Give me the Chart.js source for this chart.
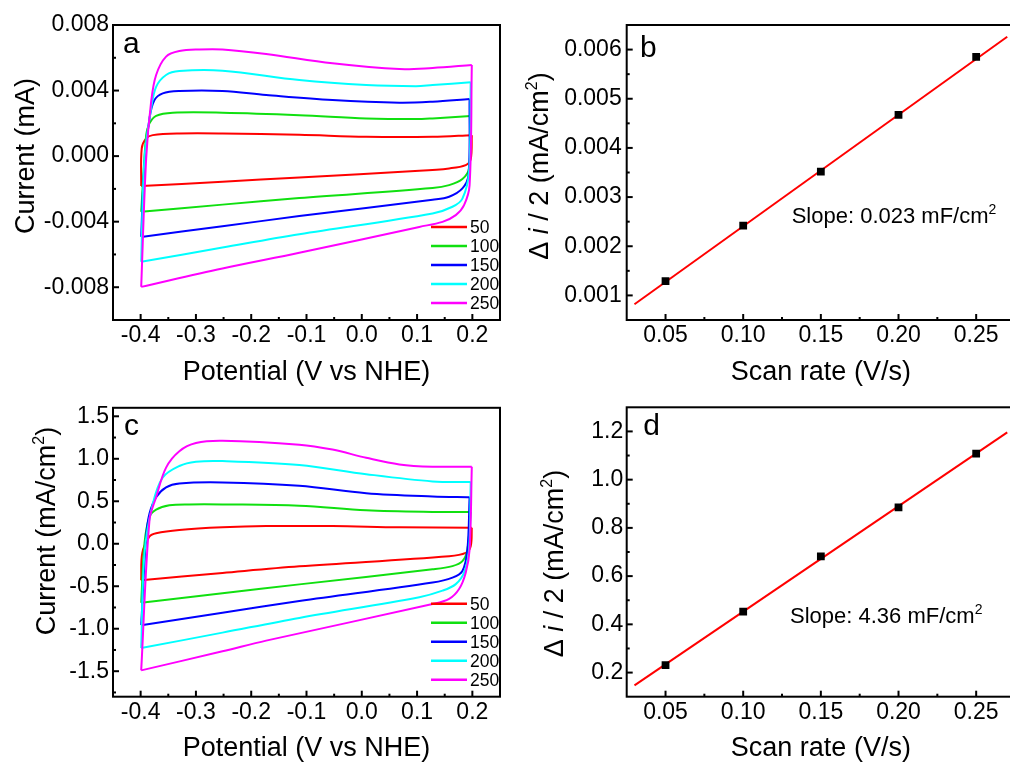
<!DOCTYPE html>
<html>
<head>
<meta charset="utf-8">
<script src="https://cdn.jsdelivr.net/npm/chart.js@4.4.1/dist/chart.umd.min.js"></script>
<style>
  html, body { margin: 0; padding: 0; background: #fff; overflow: hidden; width: 1010px; height: 766px; }
  canvas { position: absolute; }
</style>
</head>
<body>
<canvas id="chartA" width="505" height="390" style="left:0;top:0"></canvas>
<canvas id="chartB" width="505" height="390" style="left:510px;top:0"></canvas>
<canvas id="chartC" width="505" height="376" style="left:0;top:390px"></canvas>
<canvas id="chartD" width="505" height="376" style="left:510px;top:390px"></canvas>
<script>
const FONT = "'Liberation Sans', Arial, sans-serif";

// scan rates (mV/s) used as legend labels
const scanRates = ["50", "100", "150", "200", "250"];
const lineColors = ["#ff0000", "#10e010", "#0000ff", "#00ffff", "#ff00ff"];

// panel a: CV loops, [potential V, current mA]
const cvA50 = [[-0.399,-0.00183],[-0.398,0.00047],[-0.390,0.00108],[-0.378,0.00128],[-0.330,0.00138],[-0.252,0.00138],[-0.113,0.0013],[0.008,0.00118],[0.128,0.00118],[0.199,0.00128],[0.197,-0.0002],[0.188,-0.00055],[0.158,-0.00075],[0.104,-0.0009],[-0.113,-0.0013],[-0.252,-0.00156],[-0.399,-0.00183]];
const cvA100 = [[-0.399,-0.0034],[-0.390,0.00128],[-0.384,0.002],[-0.372,0.00246],[-0.342,0.00265],[-0.252,0.00265],[-0.113,0.0025],[0.008,0.0023],[0.098,0.00226],[0.128,0.0023],[0.197,0.00244],[0.194,-0.00075],[0.182,-0.0014],[0.158,-0.00177],[0.128,-0.00195],[-0.113,-0.00256],[-0.252,-0.00296],[-0.399,-0.0034]];
const cvA150 = [[-0.399,-0.00493],[-0.394,-0.001],[-0.384,0.0023],[-0.375,0.00342],[-0.360,0.00383],[-0.330,0.00397],[-0.252,0.00397],[-0.173,0.00373],[-0.053,0.00342],[0.068,0.00326],[0.128,0.00332],[0.195,0.00348],[0.193,-0.00116],[0.182,-0.00197],[0.158,-0.00248],[0.128,-0.00266],[-0.113,-0.00366],[-0.252,-0.00428],[-0.399,-0.00493]];
const cvA200 = [[-0.399,-0.00645],[-0.393,-0.00014],[-0.381,0.00291],[-0.372,0.00423],[-0.354,0.00495],[-0.330,0.00519],[-0.252,0.00521],[-0.113,0.00464],[0.008,0.00434],[0.098,0.00427],[0.128,0.00434],[0.197,0.0045],[0.194,-0.00096],[0.182,-0.00259],[0.164,-0.00309],[0.128,-0.0035],[-0.113,-0.00477],[-0.252,-0.00558],[-0.399,-0.00645]];
const cvA250 = [[-0.399,-0.00798],[-0.390,-0.00014],[-0.381,0.00332],[-0.372,0.00495],[-0.354,0.00607],[-0.330,0.00641],[-0.294,0.00651],[-0.252,0.00651],[-0.173,0.00623],[-0.053,0.00566],[0.068,0.00531],[0.128,0.00538],[0.199,0.00556],[0.195,-0.00177],[0.185,-0.00299],[0.170,-0.0036],[0.146,-0.00401],[0.104,-0.00432],[-0.113,-0.0059],[-0.252,-0.00686],[-0.399,-0.00798]];

// panel c: CV loops, [potential V, current mA/cm2]
const cvC50 = [[-0.399,-0.43],[-0.397,-0.108],[-0.384,0.085],[-0.372,0.124],[-0.330,0.162],[-0.252,0.193],[-0.173,0.208],[-0.053,0.208],[0.068,0.193],[0.199,0.189],[0.197,-0.031],[0.188,-0.108],[0.158,-0.147],[-0.113,-0.266],[-0.252,-0.344],[-0.399,-0.43]];
const cvC100 = [[-0.399,-0.695],[-0.393,0.008],[-0.384,0.317],[-0.372,0.402],[-0.348,0.452],[-0.312,0.463],[-0.252,0.463],[-0.113,0.448],[0.008,0.394],[0.128,0.375],[0.197,0.375],[0.191,-0.069],[0.182,-0.205],[0.164,-0.263],[0.128,-0.301],[-0.113,-0.478],[-0.252,-0.583],[-0.399,-0.695]];
const cvC150 = [[-0.399,-0.958],[-0.390,0.085],[-0.384,0.355],[-0.372,0.548],[-0.354,0.664],[-0.330,0.710],[-0.252,0.722],[-0.113,0.683],[0.008,0.595],[0.128,0.556],[0.195,0.548],[0.191,-0.069],[0.182,-0.32],[0.164,-0.398],[0.128,-0.456],[-0.113,-0.674],[-0.252,-0.812],[-0.399,-0.958]];
const cvC200 = [[-0.399,-1.228],[-0.393,-0.108],[-0.378,0.471],[-0.360,0.78],[-0.330,0.915],[-0.300,0.965],[-0.252,0.973],[-0.113,0.927],[0.008,0.819],[0.128,0.734],[0.197,0.726],[0.194,-0.069],[0.185,-0.34],[0.170,-0.475],[0.146,-0.552],[0.104,-0.629],[-0.113,-0.873],[-0.252,-1.046],[-0.399,-1.228]];
const cvC250 = [[-0.399,-1.49],[-0.384,0.278],[-0.372,0.548],[-0.354,0.896],[-0.330,1.089],[-0.300,1.185],[-0.252,1.212],[-0.113,1.166],[-0.053,1.108],[0.008,1.012],[0.068,0.934],[0.128,0.907],[0.199,0.907],[0.195,-0.069],[0.188,-0.34],[0.176,-0.533],[0.158,-0.649],[0.128,-0.71],[-0.173,-1.14],[-0.252,-1.266],[-0.399,-1.49]];

// panels b and d: half current difference vs scan rate
const scanRateVs = [0.05, 0.10, 0.15, 0.20, 0.25];
const deltaB = [0.00129, 0.00242, 0.00352, 0.00467, 0.00585];
const deltaD = [0.231, 0.453, 0.682, 0.885, 1.108];
const fitX = [0.03, 0.27];
const fitB = [0.00082, 0.00626];
const fitD = [0.147, 1.196];

// ticks
const cvXTicks = [-0.4, -0.3, -0.2, -0.1, 0.0, 0.1, 0.2];
const cvXMinor = [-0.35, -0.25, -0.15, -0.05, 0.05, 0.15];
const aYTicks = [-0.008, -0.004, 0, 0.004, 0.008];
const aYMinor = [-0.006, -0.002, 0.002, 0.006];
const cYTicks = [-1.5, -1.0, -0.5, 0, 0.5, 1.0, 1.5];
const cYMinor = [-1.75, -1.25, -0.75, -0.25, 0.25, 0.75, 1.25];
const rateTicks = [0.05, 0.10, 0.15, 0.20, 0.25];
const rateMinor = [0.075, 0.125, 0.175, 0.225];
const bYTicks = [0.001, 0.002, 0.003, 0.004, 0.005, 0.006];
const bYMinor = [0.0015, 0.0025, 0.0035, 0.0045, 0.0055];
const dYTicks = [0.2, 0.4, 0.6, 0.8, 1.0, 1.2];
const dYMinor = [0.3, 0.5, 0.7, 0.9, 1.1];

const f = (size, style) => `${style || ""} ${size}px ${FONT}`;

// draws segments of text (normal / italic / superscript) in a row
function richText(ctx, segs, x, y, rotated) {
  ctx.save();
  ctx.translate(x, y);
  if (rotated) ctx.rotate(-Math.PI / 2);
  const widths = segs.map(s => { ctx.font = s.font; return ctx.measureText(s.t).width; });
  const total = widths.reduce((a, b) => a + b, 0);
  let cx = rotated ? -total / 2 : 0;
  ctx.fillStyle = "#000";
  ctx.textAlign = "left";
  ctx.textBaseline = "alphabetic";
  segs.forEach((s, i) => { ctx.font = s.font; ctx.fillText(s.t, cx, -(s.rise || 0)); cx += widths[i]; });
  ctx.restore();
}

// frame, inward ticks, panel letter, y title, legend, note
function panelDecor(cfg) {
  return {
    id: "panelDecor",
    afterDraw(chart) {
      const { ctx, chartArea: a } = chart;
      const xs = chart.scales.x, ys = chart.scales.y;
      ctx.save();
      ctx.strokeStyle = "#000";
      ctx.lineWidth = 2;
      const seg = (x1, y1, x2, y2) => { ctx.beginPath(); ctx.moveTo(x1, y1); ctx.lineTo(x2, y2); ctx.stroke(); };
      xs.ticks.forEach(t => { const p = xs.getPixelForValue(t.value); seg(p, a.bottom, p, a.bottom - 6); });
      cfg.xMinor.forEach(v => { const p = xs.getPixelForValue(v); seg(p, a.bottom, p, a.bottom - 3); });
      ys.ticks.forEach(t => { const p = ys.getPixelForValue(t.value); seg(a.left, p, a.left + 6, p); });
      cfg.yMinor.forEach(v => { const p = ys.getPixelForValue(v); seg(a.left, p, a.left + 3, p); });
      ctx.strokeRect(a.left, a.top, a.right - a.left, a.bottom - a.top);

      ctx.fillStyle = "#000";
      ctx.font = f(30);
      ctx.textBaseline = "alphabetic";
      ctx.fillText(cfg.letter, cfg.letterPos[0], cfg.letterPos[1]);

      richText(ctx, cfg.yTitle, cfg.yTitlePos[0], cfg.yTitlePos[1], true);

      if (cfg.legend) {
        chart.data.datasets.filter(ds => !ds.noLegend).forEach((ds, i) => {
          const y = a.bottom - 93 + i * 19;
          ctx.strokeStyle = ds.borderColor;
          ctx.lineWidth = 2.5;
          seg(a.right - 69, y, a.right - 33, y);
          ctx.fillStyle = "#000";
          ctx.font = f(17.5);
          ctx.textBaseline = "middle";
          ctx.fillText(ds.label, a.right - 30, y + 1);
        });
      }
      if (cfg.note) richText(ctx, cfg.note, cfg.notePos[0], cfg.notePos[1], false);
      ctx.restore();
    }
  };
}

function axes(o) {
  const tickFont = { family: FONT, size: 23 };
  return {
    x: {
      type: "linear", min: o.xMin, max: o.xMax,
      afterBuildTicks: s => { s.ticks = o.xTicks.map(v => ({ value: v })); },
      afterFit: s => { s.height = o.xH; },
      grid: { display: false, drawTicks: false },
      border: { display: false },
      ticks: { font: tickFont, color: "#000", padding: 2, autoSkip: false, maxRotation: 0, callback: v => v.toFixed(o.xDec) },
      title: { display: true, text: o.xTitle, color: "#000", font: { family: FONT, size: 27 }, padding: { top: 0, bottom: 1 } }
    },
    y: {
      type: "linear", min: o.yMin, max: o.yMax,
      afterBuildTicks: s => { s.ticks = o.yTicks.map(v => ({ value: v })); },
      afterFit: s => { s.width = o.yW; },
      grid: { display: false, drawTicks: false },
      border: { display: false },
      ticks: { font: tickFont, color: "#000", padding: o.yPad, autoSkip: false, callback: v => v.toFixed(o.yDec) }
    }
  };
}

// each loop is split at its turning potential into forward and reverse scans
function cvChart(id, loops, ax, decor, pad) {
  const datasets = [];
  loops.forEach((loop, i) => {
    const pts = loop.map(([x, y]) => ({ x, y }));
    let turn = 0;
    pts.forEach((p, k) => { if (p.x > pts[turn].x) turn = k; });
    [pts.slice(0, turn + 1), pts.slice(turn)].forEach((branch, k) => {
      datasets.push({
        label: scanRates[i], noLegend: k === 1,
        data: branch, showLine: true, fill: false,
        borderColor: lineColors[i], borderWidth: 2,
        pointRadius: 0, tension: 0.35,
        order: loops.length - 1 - i
      });
    });
  });
  return new Chart(document.getElementById(id), {
    type: "scatter",
    data: { datasets },
    options: {
      responsive: false, animation: false, events: [],
      layout: { padding: pad, autoPadding: false },
      plugins: { legend: { display: false }, tooltip: { enabled: false } },
      scales: axes(ax)
    },
    plugins: [panelDecor(decor)]
  });
}

function rateChart(id, deltas, fit, ax, decor, pad) {
  return new Chart(document.getElementById(id), {
    type: "scatter",
    data: {
      datasets: [
        { label: "data", data: scanRateVs.map((x, i) => ({ x, y: deltas[i] })),
          pointStyle: "rect", pointRadius: 5.5, backgroundColor: "#000", borderWidth: 0, order: 0 },
        { label: "fit", data: fitX.map((x, i) => ({ x, y: fit[i] })),
          showLine: true, borderColor: "#ff0000", borderWidth: 2, pointRadius: 0, order: 1 }
      ]
    },
    options: {
      responsive: false, animation: false, events: [],
      layout: { padding: pad, autoPadding: false },
      plugins: { legend: { display: false }, tooltip: { enabled: false } },
      scales: axes(ax)
    },
    plugins: [panelDecor(decor)]
  });
}

const titleCurrentA = [{ t: "Current (mA)", font: f(27) }];
const titleCurrentC = [{ t: "Current (mA/cm", font: f(27) }, { t: "2", font: f(16), rise: 11 }, { t: ")", font: f(27) }];
const titleDelta = [{ t: "\u0394 ", font: f(27) }, { t: "i", font: f(27, "italic") }, { t: " / 2 (mA/cm", font: f(27) }, { t: "2", font: f(16), rise: 11 }, { t: ")", font: f(27) }];
const noteB = [{ t: "Slope: 0.023 mF/cm", font: f(22) }, { t: "2", font: f(14), rise: 9 }];
const noteD = [{ t: "Slope: 4.36 mF/cm", font: f(22) }, { t: "2", font: f(14), rise: 9 }];

cvChart("chartA", [cvA50, cvA100, cvA150, cvA200, cvA250],
  { xMin: -0.45, xMax: 0.25, xTicks: cvXTicks, xDec: 1, xH: 70, xTitle: "Potential (V vs NHE)",
    yMin: -0.010, yMax: 0.008, yTicks: aYTicks, yDec: 3, yW: 113, yPad: 4 },
  { xMinor: cvXMinor, yMinor: aYMinor, letter: "a", letterPos: [123, 53], yTitle: titleCurrentA, yTitlePos: [33.5, 156], legend: true },
  { top: 25, right: 5, left: 0, bottom: 0 });

cvChart("chartC", [cvC50, cvC100, cvC150, cvC200, cvC250],
  { xMin: -0.45, xMax: 0.25, xTicks: cvXTicks, xDec: 1, xH: 69.3, xTitle: "Potential (V vs NHE)",
    yMin: -1.8, yMax: 1.6, yTicks: cYTicks, yDec: 1, yW: 113, yPad: 4 },
  { xMinor: cvXMinor, yMinor: cYMinor, letter: "c", letterPos: [124, 45], yTitle: titleCurrentC, yTitlePos: [55, 141], legend: true },
  { top: 13.3, right: 5, left: 0, bottom: 0 });

rateChart("chartB", deltaB, fitB,
  { xMin: 0.025, xMax: 0.275, xTicks: rateTicks, xDec: 2, xH: 70, xTitle: "Scan rate (V/s)",
    yMin: 0.0005, yMax: 0.0065, yTicks: bYTicks, yDec: 3, yW: 116.7, yPad: 5 },
  { xMinor: rateMinor, yMinor: bYMinor, letter: "b", letterPos: [130, 56.7], yTitle: titleDelta, yTitlePos: [38.3, 166],
    note: noteB, notePos: [281.7, 223.3] },
  { top: 25, right: 0, left: 0, bottom: 0 });

rateChart("chartD", deltaD, fitD,
  { xMin: 0.025, xMax: 0.275, xTicks: rateTicks, xDec: 2, xH: 69.3, xTitle: "Scan rate (V/s)",
    yMin: 0.1, yMax: 1.3, yTicks: dYTicks, yDec: 1, yW: 116.7, yPad: 3.5 },
  { xMinor: rateMinor, yMinor: dYMinor, letter: "d", letterPos: [133.3, 45], yTitle: titleDelta, yTitlePos: [53, 173.5],
    note: noteD, notePos: [280, 233.3] },
  { top: 13.3, right: 0, left: 0, bottom: 0 });
</script>
</body>
</html>
